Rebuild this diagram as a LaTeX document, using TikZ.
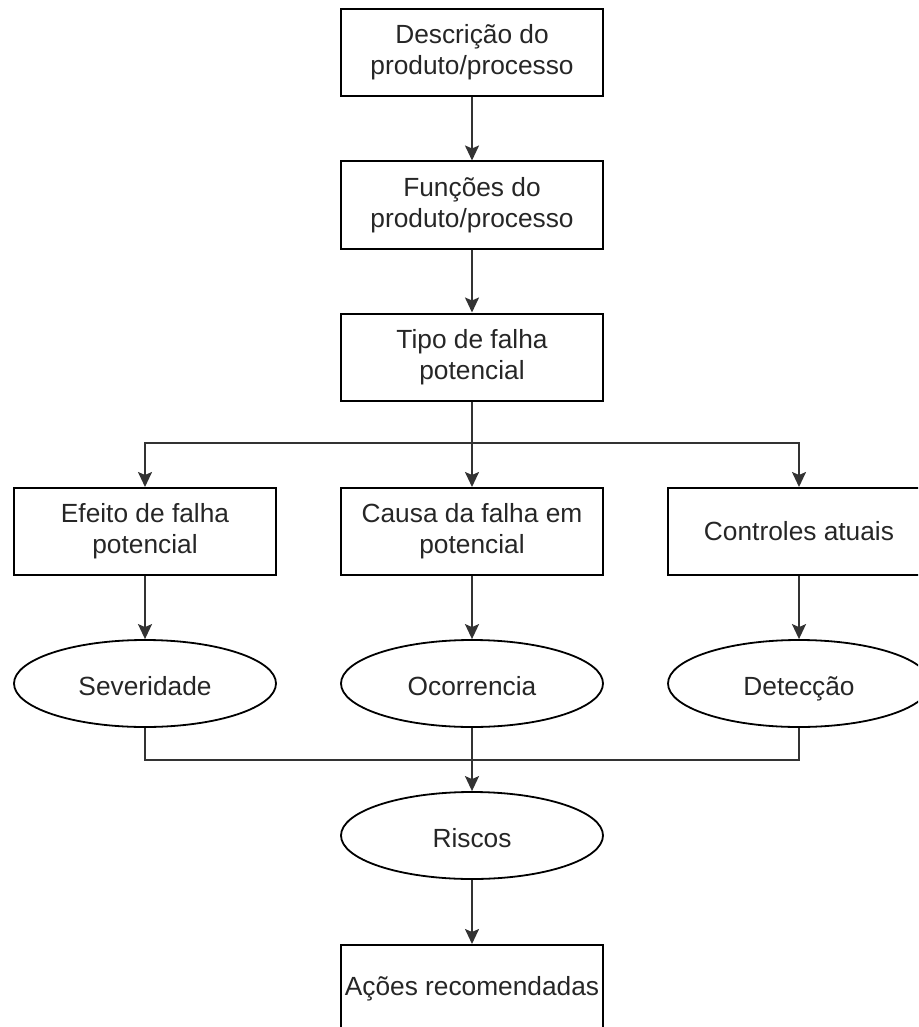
\documentclass[tikz,border=0pt]{standalone}
\usepackage{fontspec}
\setmainfont{Liberation Sans}
\usetikzlibrary{shapes.geometric,arrows.meta}
\begin{document}
\begin{tikzpicture}[x=1pt,y=-1pt,
  every node/.style={font=\fontsize{26.3}{31}\selectfont, text=black!85, align=center, inner sep=0pt},
  box/.style={draw=black, line width=2pt, minimum width=262pt, minimum height=87pt},
  ell/.style={ellipse, draw=black, line width=1.8pt, minimum width=262pt, minimum height=87pt, text height=23pt, text depth=0pt},
  conn/.style={draw=black!80, line width=2pt},
  arr/.style={conn, -{Stealth[length=15pt,width=14pt,inset=3pt]}}
]
\useasboundingbox (0,0) rectangle (918,1027);
\clip (0,0) rectangle (918,1027);
\node[box] (desc) at (472,52.5) {Descrição do\\produto/processo};
\node[box] (func) at (472,205) {Funções do\\produto/processo};
\node[box] (tipo) at (472,357) {Tipo de falha\\potencial};
\node[box] (efeito) at (145,531.5) {Efeito de falha\\potencial};
\node[box] (causa) at (472,531.5) {Causa da falha em\\potencial};
\node[box] (contr) at (799,531.5) {Controles atuais};
\node[ell] (sev) at (145,683.5) {Severidade};
\node[ell] (oco) at (472,683.5) {Ocorrencia};
\node[ell] (det) at (799,683.5) {Detecção};
\node[ell] (risc) at (472,835.5) {Riscos};
\node[box] (acoes) at (472,988.5) {Ações recomendadas};
\coordinate (split) at (472,443);
\coordinate (merge) at (472,760);
\draw[arr] (desc) -- (func);
\draw[arr] (func) -- (tipo);
\draw[arr] (tipo) -- (causa);
\draw[arr] (split) -| (efeito.north);
\draw[arr] (split) -| (contr.north);
\draw[arr] (efeito) -- (sev);
\draw[arr] (causa) -- (oco);
\draw[arr] (contr) -- (det);
\draw[conn] (sev.south) |- (merge);
\draw[conn] (det.south) |- (merge);
\draw[arr] (oco) -- (risc);
\draw[arr] (risc) -- (acoes);
\end{tikzpicture}
\end{document}
